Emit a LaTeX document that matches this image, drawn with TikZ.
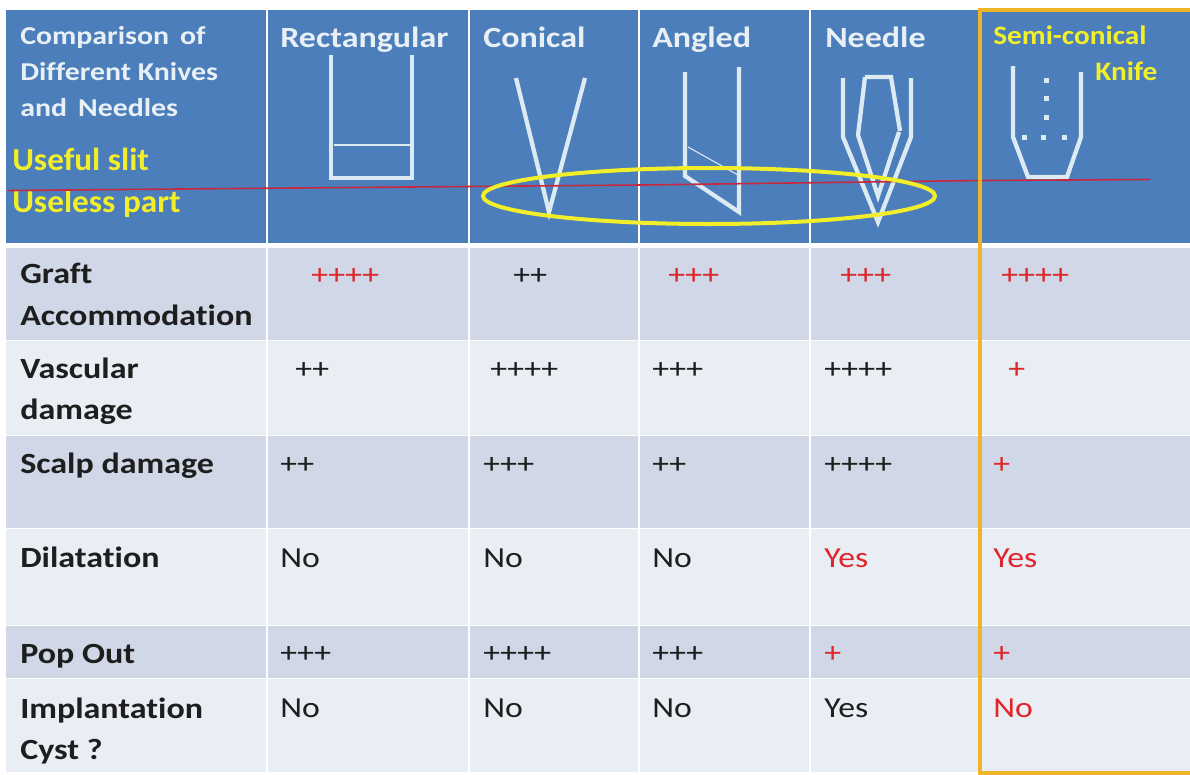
\documentclass[tikz,border=0pt]{standalone}
\usepackage{fontspec}
\setmainfont[FakeStretch=1.16,Ligatures=NoCommon]{Carlito}
\newfontfamily\ylwbig[FakeStretch=1.04,Ligatures=NoCommon]{Carlito}
\newfontfamily\ylwsmall[FakeStretch=1.1,Ligatures=NoCommon]{Carlito}
\definecolor{hdr}{HTML}{4B7EBB}
\definecolor{rowd}{HTML}{D0D7E6}
\definecolor{rowl}{HTML}{E9EDF4}
\definecolor{knife}{HTML}{DCEAF4}
\definecolor{htxt}{HTML}{E8F0F6}
\definecolor{ylw}{HTML}{F2EE2A}
\definecolor{org}{HTML}{F0B428}
\definecolor{redl}{HTML}{C8283C}
\definecolor{redt}{HTML}{E0252B}
\definecolor{txt}{HTML}{1E1E1E}
\tikzset{
  x=0.75pt,y=-0.75pt,
  hlab/.style={anchor=base west,inner sep=0,font=\fontsize{22pt}{24pt}\selectfont\bfseries,text=htxt},
  hsm/.style={anchor=base west,inner sep=0,font=\fontsize{19.3pt}{22pt}\selectfont\bfseries,text=htxt},
  ylab/.style={anchor=base west,inner sep=0,font=\ylwbig\fontsize{24pt}{26pt}\selectfont\bfseries,text=ylw},
  ysm/.style={anchor=base west,inner sep=0,font=\ylwsmall\fontsize{20pt}{22pt}\selectfont\bfseries,text=ylw},
  rlab/.style={anchor=base west,inner sep=0,font=\fontsize{22pt}{24pt}\selectfont\bfseries,text=txt},
  val/.style={anchor=base west,inner sep=0,font=\fontsize{21.8pt}{24pt}\selectfont,text=txt},
  rval/.style={val,text=redt},
  kn/.style={draw=knife,line width=3.2pt,line join=miter},
  knthin/.style={draw=knife,line width=0.8pt},
  grid/.style={draw=white,line width=0.9pt},
}
\begin{document}
\begin{tikzpicture}
\useasboundingbox (0,0) rectangle (1190,775);
\fill[white] (0,0) rectangle (1190,775);
% bands
\fill[hdr] (6,10) rectangle (1190,243);
\fill[rowd] (6,248) rectangle (1190,340);
\fill[rowl] (6,340) rectangle (1190,435);
\fill[rowd] (6,435) rectangle (1190,528);
\fill[rowl] (6,528) rectangle (1190,625);
\fill[rowd] (6,625) rectangle (1190,678);
\fill[rowl] (6,678) rectangle (1190,772);
% grid
\foreach \g in {267,469,639,810}{\draw[grid] (\g,10) -- (\g,772);}
\foreach \g in {340,435,528,625,678}{\draw[white,line width=0.4pt] (6,\g) -- (1190,\g);}
% header text
\node[hsm] (h1) at (20,44) {Comparison\, of};
\node[hsm] (h2) at (20,80) {Different Knives};
\node[hsm] (h3) at (20,116) {and\, Needles};
\node[hlab] (cr) at (280,47) {Rectangular};
\node[hlab] (cc) at (483,47) {Conical};
\node[hlab] (ca) at (652,47) {Angled};
\node[hlab] (cn) at (825,47) {Needle};
\node[ysm] (cs) at (993,44) {Semi-conical};
\node[ysm] (ck) at (1095,80) {Knife};
\node[ylab] (us) at (12,170) {Useful slit};
\node[ylab] (ul) at (12,212) {Useless part};
% rectangular knife
\draw[kn] (331,55) -- (331,178) -- (412,178) -- (412,55);
\draw[knthin] (334,145) -- (414,145);
% conical
\draw[kn] (516,78) -- (549,212) -- (585,78);
% angled
\draw[kn] (685,72) -- (685,176) -- (739,212) -- (739,67);
\draw[knthin] (688,147) -- (738,175);
% needle
\draw[kn] (843,78) -- (843,137) -- (878,222) -- (911,137) -- (911,78);
\draw[kn] (865,77) -- (858,135) -- (878,196) -- (899,132);
\draw[kn] (865,77) -- (891,77) -- (900,131);
% semi-conical
\draw[kn] (1013,66) -- (1013,137) -- (1028,177) -- (1067,177) -- (1081,137) -- (1081,72);
\foreach \p in {(1046,80),(1046,98),(1046,117),(1043,137),(1024,137),(1064,137)}{\fill[knife] \p +(-2.5,-2.5) rectangle +(2.5,2.5);}
% red line and ellipse
\draw[redl,line width=1.2pt] (8,190.5) -- (640,185) -- (980,180.5) -- (1150,179.5);
\draw[ylw,line width=3pt] (709,196) ellipse [x radius=226,y radius=28];
% row labels
\node[rlab] (r1a) at (20,283) {Graft};
\node[rlab] (r1b) at (20,325) {Accommodation};
\node[rlab] (r2a) at (20,378) {Vascular};
\node[rlab] (r2b) at (20,419) {damage};
\node[rlab] (r3) at (20,473) {Scalp damage};
\node[rlab] (r4) at (20,567) {Dilatation};
\node[rlab] (r5) at (20,663) {Pop Out};
\node[rlab] (r6a) at (20,718) {Implantation};
\node[rlab] (r6b) at (20,759) {Cyst ?};
% values
\node[rval] (v11) at (311,284) {++++};
\node[val]  (v12) at (513,284) {++};
\node[rval] (v13) at (668,284) {+++};
\node[rval] (v14) at (840,284) {+++};
\node[rval] (v15) at (1001,284) {++++};
\node[val]  (v21) at (295,378) {++};
\node[val]  (v22) at (490,378) {++++};
\node[val]  (v23) at (652,378) {+++};
\node[val]  (v24) at (824,378) {++++};
\node[rval] (v25) at (1008,378) {+};
\node[val]  (v31) at (280,473) {++};
\node[val]  (v32) at (483,473) {+++};
\node[val]  (v33) at (652,473) {++};
\node[val]  (v34) at (824,473) {++++};
\node[rval] (v35) at (993,473) {+};
\node[val]  (v41) at (280,567) {No};
\node[val]  (v42) at (483,567) {No};
\node[val]  (v43) at (652,567) {No};
\node[rval] (v44) at (824,567) {Yes};
\node[rval] (v45) at (993,567) {Yes};
\node[val]  (v51) at (280,662) {+++};
\node[val]  (v52) at (483,662) {++++};
\node[val]  (v53) at (652,662) {+++};
\node[rval] (v54) at (824,662) {+};
\node[rval] (v55) at (993,662) {+};
\node[val]  (v61) at (280,717) {No};
\node[val]  (v62) at (483,717) {No};
\node[val]  (v63) at (652,717) {No};
\node[val]  (v64) at (824,717) {Yes};
\node[rval] (v65) at (993,717) {No};
% orange highlight
\draw[org,line width=3pt] (1190,10) -- (980,10) -- (980,773) -- (1190,773);
\end{tikzpicture}
\end{document}
